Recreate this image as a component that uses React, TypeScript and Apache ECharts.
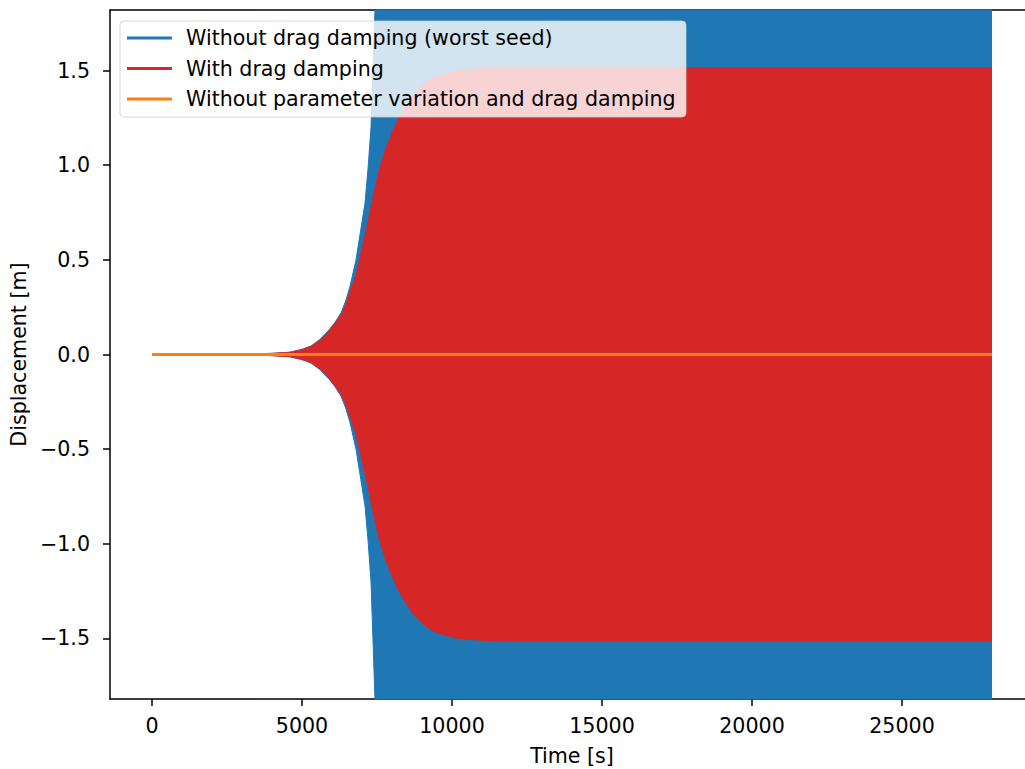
import React, { useEffect, useRef } from "react";
import * as echarts from "echarts";

// Time samples [s] and envelope amplitudes [m]
const times = [0, 1000, 2000, 3000, 4000, 4600, 5000, 5300, 5600, 5900, 6100, 6300, 6450, 6600, 6800, 7000, 7100, 7200, 7300, 7450, 7600, 7800, 8000, 8200, 8450, 8700, 9000, 9300, 9700, 10200, 11000, 11600, 28000];
const blueEnvelope = [0.0003, 0.0006, 0.0012, 0.0025, 0.006, 0.012, 0.027, 0.045, 0.08, 0.13, 0.17, 0.22, 0.28, 0.36, 0.5, 0.7, 0.8, 0.98, 1.2, 1.9, 2.5, 2.5, 2.5, 2.5, 2.5, 2.5, 2.5, 2.5, 2.5, 2.5, 2.5, 2.5, 2.5];
const redEnvelope = [0.0003, 0.0006, 0.0012, 0.0025, 0.006, 0.012, 0.026, 0.043, 0.075, 0.125, 0.165, 0.21, 0.26, 0.33, 0.42, 0.56, 0.63, 0.7, 0.78, 0.89, 0.99, 1.09, 1.17, 1.24, 1.31, 1.37, 1.42, 1.455, 1.48, 1.5, 1.51, 1.515, 1.515];
const orangeTimes = [0, 28000];
const orangeValues = [0, 0];

const xTicks = [0, 5000, 10000, 15000, 20000, 25000];
const yTicks = [-1.5, -1.0, -0.5, 0.0, 0.5, 1.0, 1.5];

const seriesNames = [
  "Without drag damping (worst seed)",
  "With drag damping",
  "Without parameter variation and drag damping",
];
const colors = ["#1f77b4", "#d62728", "#ff7f0e"];

const FONT = "DejaVu Sans";
const FS = 20.6;
const X_MIN = -1400;
const X_MAX = 29400;

export default function App() {
  const ref = useRef<HTMLDivElement>(null);
  useEffect(() => {
    if (!ref.current) return;
    const chart = echarts.init(ref.current, undefined, { renderer: "svg" });
    const band = (env: number[], sign: number, color: string) => ({
      type: "line",
      xAxisIndex: 0,
      data: times.map((t, i) => [t, sign * env[i]]),
      symbol: "none",
      clip: true,
      lineStyle: { color, width: 1 },
      areaStyle: { color, opacity: 1 },
      silent: true,
    });
    const legendRows = seriesNames.map((name, i) => {
      const y = 38 + i * 30.5;
      return [
        {
          type: "line",
          shape: { x1: 127, y1: y, x2: 172, y2: y },
          style: { stroke: colors[i], lineWidth: 3 },
          z: 101,
        },
        {
          type: "text",
          x: 186,
          y,
          style: {
            text: name,
            font: `${FS}px "${FONT}"`,
            fill: "#000",
            verticalAlign: "middle",
          },
          z: 101,
        },
      ];
    }).flat();

    const axisLineStyle = { color: "#000", width: 1.5 };

    chart.setOption({
      animation: false,
      backgroundColor: "#fff",
      grid: {
        left: 110,
        top: 10,
        width: 924,
        height: 689,
        outerBoundsMode: "none",
        containLabel: false,
        show: false,
      },
      xAxis: [
        {
          type: "value",
          position: "bottom",
          min: X_MIN,
          max: X_MAX,
          name: "Time [s]",
          nameLocation: "middle",
          nameGap: 46,
          nameTextStyle: { fontFamily: FONT, fontSize: FS, color: "#000" },
          axisLine: { show: true, onZero: false, lineStyle: axisLineStyle },
          axisTick: { show: true, customValues: xTicks, length: 7, lineStyle: axisLineStyle },
          axisLabel: {
            customValues: xTicks,
            margin: 16,
            fontFamily: FONT,
            fontSize: FS,
            color: "#000",
            formatter: (v: number) => String(v),
          },
          splitLine: { show: false },
        },
        {
          type: "value",
          position: "top",
          min: X_MIN,
          max: X_MAX,
          axisLine: { show: true, onZero: false, lineStyle: axisLineStyle },
          axisTick: { show: false },
          axisLabel: { show: false },
          splitLine: { show: false },
        },
      ],
      yAxis: {
        type: "value",
        min: -1.82,
        max: 1.82,
        name: "Displacement [m]",
        nameLocation: "middle",
        nameGap: 80,
        nameTextStyle: { fontFamily: FONT, fontSize: FS, color: "#000" },
        axisLine: { show: true, onZero: false, lineStyle: axisLineStyle },
        axisTick: { show: true, customValues: yTicks, length: 7, lineStyle: axisLineStyle },
        axisLabel: {
          customValues: yTicks,
          margin: 20,
          fontFamily: FONT,
          fontSize: FS,
          color: "#000",
          formatter: (v: number) => (v < 0 ? "\u2212" : "") + Math.abs(v).toFixed(1),
        },
        splitLine: { show: false },
      },
      series: [
        band(blueEnvelope, 1, colors[0]),
        band(blueEnvelope, -1, colors[0]),
        band(redEnvelope, 1, colors[1]),
        band(redEnvelope, -1, colors[1]),
        {
          type: "line",
          xAxisIndex: 0,
          data: orangeTimes.map((t, i) => [t, orangeValues[i]]),
          symbol: "none",
          lineStyle: { color: colors[2], width: 3 },
          silent: true,
        },
      ],
      graphic: [
        {
          type: "rect",
          shape: { x: 120, y: 21, width: 566, height: 96, r: 4 },
          style: { fill: "rgba(255,255,255,0.8)", stroke: "rgba(204,204,204,0.8)", lineWidth: 1 },
          z: 100,
        },
        ...legendRows,
      ],
    });
    return () => chart.dispose();
  }, []);
  return (
    <div style={{ position: "absolute", left: 0, top: 0, width: 1025, height: 769, overflow: "hidden", background: "#fff" }}>
      <div ref={ref} style={{ width: 1025, height: 769 }} />
    </div>
  );
}
